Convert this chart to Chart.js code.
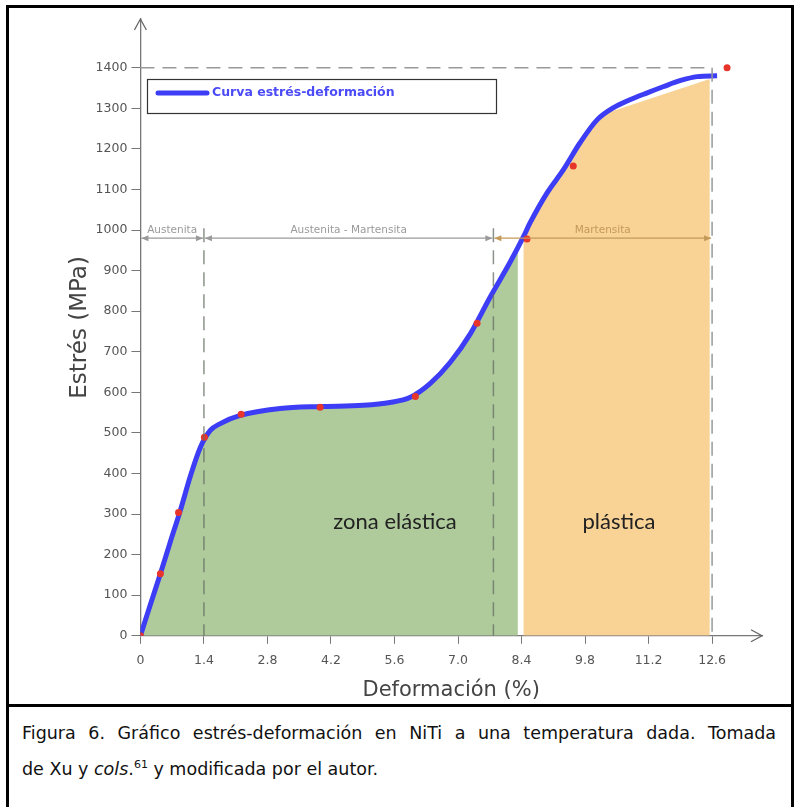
<!DOCTYPE html>
<html>
<head>
<meta charset="utf-8">
<script src="https://cdn.jsdelivr.net/npm/chart.js@4.4.0/dist/chart.umd.min.js"></script>
<style>
  html, body { margin: 0; padding: 0; background: #fff; }
  body { width: 797px; height: 807px; position: relative; overflow: hidden; }
  #frame { position: absolute; left: 6px; top: 5px; width: 788px; height: 830px; border: 3px solid #000; box-sizing: border-box; }
  #divider { position: absolute; left: 6px; top: 704px; width: 788px; height: 3px; background: #000; }
  #chartBox { position: absolute; left: 0; top: 0; width: 797px; height: 704px; }
  #caption { position: absolute; left: 22px; top: 715px; width: 754px; font-family: 'DejaVu Sans', sans-serif; font-size: 17.5px; line-height: 36px; color: #111; }
  .l1 { text-align: justify; text-align-last: justify; white-space: nowrap; }
  sup { font-size: 11px; line-height: 0; }
</style>
</head>
<body>
<div id="frame"></div>
<div id="divider"></div>
<div id="chartBox"><canvas id="chart"></canvas></div>
<div id="caption">
  <div class="l1">Figura 6. Gráfico estrés-deformación en NiTi a una temperatura dada. Tomada</div>
  <div>de Xu y <i>cols</i>.<sup>61</sup> y modificada por el autor.</div>
</div>
<script>
  // ejes
  const xTicks = [0, 1.4, 2.8, 4.2, 5.6, 7.0, 8.4, 9.8, 11.2, 12.6];
  const yTicks = [0, 100, 200, 300, 400, 500, 600, 700, 800, 900, 1000, 1100, 1200, 1300, 1400];

  // curva estrés-deformación
  const curveX = [0, 0.22, 0.44, 0.66, 0.88, 1.10, 1.32, 1.54, 1.76, 2.20, 3.08, 3.96, 4.91, 5.50, 5.95, 6.39, 6.83, 7.27, 7.71, 8.15, 8.44, 8.59, 8.96, 9.32, 9.69, 10.07, 10.42, 10.79, 11.17, 11.52, 11.89, 12.27, 12.71];
  const curveY = [0, 77, 153, 232, 309, 393, 464, 506, 523, 543, 560, 565, 568, 575, 588, 622, 674, 744, 835, 921, 983, 1018, 1091, 1148, 1215, 1272, 1301, 1321, 1338, 1353, 1368, 1378, 1380];

  // zona elástica (verde)
  const elasticX = [0, 0.22, 0.44, 0.66, 0.88, 1.10, 1.32, 1.54, 1.76, 2.20, 3.08, 3.96, 4.91, 5.50, 5.95, 6.39, 6.83, 7.27, 7.71, 8.15, 8.32];
  const elasticY = [0, 77, 153, 232, 309, 393, 464, 506, 523, 543, 560, 565, 568, 575, 588, 622, 674, 744, 835, 921, 958];

  // zona plástica (naranja)
  const plasticX = [8.44, 8.59, 8.96, 9.32, 9.69, 10.07, 10.33, 12.55];
  const plasticY = [975, 1010, 1083, 1140, 1207, 1265, 1290, 1372];

  // puntos rojos
  const markerX = [0, 0.44, 0.84, 1.41, 2.22, 3.96, 6.06, 7.42, 8.52, 9.54, 12.93];
  const markerY = [0, 153, 304, 489, 546, 563, 590, 770, 978, 1158, 1400];

  // fases
  const phaseNames = ['Austenita', 'Austenita - Martensita', 'Martensita'];
  const phaseBounds = [0, 1.4, 7.78, 12.6];
  const phaseLevel = 980;

  const toPts = (xs, ys) => xs.map((x, i) => ({ x: x, y: ys[i] }));

  const decor = {
    id: 'decor',
    afterDatasetsDraw(chart) {
      const ctx = chart.ctx;
      const xs = chart.scales.x, ys = chart.scales.y;
      const X = v => xs.getPixelForValue(v);
      const Y = v => ys.getPixelForValue(v);
      const y0 = Y(0);
      ctx.save();

      // líneas discontinuas
      ctx.setLineDash([14, 8]);
      ctx.lineWidth = 1.5;
      ctx.strokeStyle = '#999';
      ctx.beginPath();
      ctx.moveTo(X(0), Y(1400)); ctx.lineTo(X(12.6), Y(1400));
      ctx.moveTo(X(12.6), Y(1400)); ctx.lineTo(X(12.6), y0);
      ctx.stroke();
      ctx.strokeStyle = 'rgba(100,110,100,0.75)';
      ctx.beginPath();
      ctx.moveTo(X(1.4), Y(phaseLevel) - 10); ctx.lineTo(X(1.4), y0);
      ctx.moveTo(X(7.78), Y(phaseLevel) - 10); ctx.lineTo(X(7.78), y0);
      ctx.stroke();
      ctx.setLineDash([]);

      // cotas de fases
      const ly = Y(phaseLevel);
      ctx.font = '10.5px "DejaVu Sans", sans-serif';
      ctx.textAlign = 'center';
      ctx.textBaseline = 'bottom';
      phaseNames.forEach((name, i) => {
        const a = X(phaseBounds[i]), b = X(phaseBounds[i + 1]);
        const col = i === 2 ? '#c49a5a' : '#9a9a9a';
        ctx.strokeStyle = col;
        ctx.fillStyle = col;
        ctx.lineWidth = 1.2;
        ctx.beginPath();
        ctx.moveTo(a + 1, ly); ctx.lineTo(b - 1, ly);
        ctx.stroke();
        [[a + 1, 1], [b - 1, -1]].forEach(([p, d]) => {
          ctx.beginPath();
          ctx.moveTo(p, ly);
          ctx.lineTo(p + d * 7, ly - 3);
          ctx.lineTo(p + d * 7, ly + 3);
          ctx.closePath();
          ctx.fill();
        });
        ctx.fillText(name, (a + b) / 2, ly - 3);
      });

      // flechas de los ejes
      ctx.strokeStyle = '#666';
      ctx.lineWidth = 1.3;
      const xr = chart.chartArea.right, yt = chart.chartArea.top, xl = X(0);
      ctx.beginPath();
      ctx.moveTo(xr - 11, y0 - 6); ctx.lineTo(xr, y0); ctx.lineTo(xr - 11, y0 + 6);
      ctx.moveTo(xl - 6, yt + 11); ctx.lineTo(xl, yt); ctx.lineTo(xl + 6, yt + 11);
      ctx.stroke();

      // textos de zonas
      ctx.fillStyle = '#222';
      ctx.font = '22px Lato, sans-serif';
      ctx.textBaseline = 'middle';
      ctx.fillText('zona elástica', 395, 522);
      ctx.fillText('plástica', 619, 522);

      // leyenda
      ctx.strokeStyle = '#333';
      ctx.lineWidth = 1.2;
      ctx.strokeRect(147.5, 79.5, 349, 34);
      ctx.strokeStyle = '#3d3df5';
      ctx.lineWidth = 5;
      ctx.lineCap = 'round';
      ctx.beginPath();
      ctx.moveTo(158, 93); ctx.lineTo(207, 93);
      ctx.stroke();
      ctx.fillStyle = '#4b4bf7';
      ctx.font = 'bold 12.5px "DejaVu Sans", sans-serif';
      ctx.textAlign = 'left';
      ctx.fillText('Curva estrés-deformación', 212, 93);
      ctx.restore();
    }
  };

  new Chart(document.getElementById('chart'), {
    type: 'line',
    data: {
      datasets: [
        {
          label: 'marcas',
          data: toPts(markerX, markerY),
          showLine: false,
          pointRadius: 3.5,
          pointBackgroundColor: '#e8352b',
          pointBorderWidth: 0,
          order: 0
        },
        {
          label: 'Curva estrés-deformación',
          data: toPts(curveX, curveY),
          borderColor: '#3d3df5',
          borderWidth: 5,
          cubicInterpolationMode: 'monotone',
          pointRadius: 0,
          fill: false,
          order: 1
        },
        {
          label: 'zona elástica',
          data: toPts(elasticX, elasticY),
          borderWidth: 0,
          borderColor: 'rgba(0,0,0,0)',
          backgroundColor: '#afcb9c',
          cubicInterpolationMode: 'monotone',
          pointRadius: 0,
          fill: 'origin',
          order: 2
        },
        {
          label: 'plástica',
          data: toPts(plasticX, plasticY),
          borderWidth: 0,
          borderColor: 'rgba(0,0,0,0)',
          backgroundColor: '#f9d295',
          pointRadius: 0,
          fill: 'origin',
          order: 3
        }
      ]
    },
    options: {
      responsive: true,
      maintainAspectRatio: false,
      animation: false,
      layout: { padding: { left: 66, right: 35, top: 19, bottom: 1 } },
      plugins: { legend: { display: false }, tooltip: { enabled: false } },
      scales: {
        x: {
          type: 'linear',
          min: 0,
          max: 13.7,
          afterBuildTicks: s => { s.ticks = xTicks.map(v => ({ value: v })); },
          grid: { drawOnChartArea: false, drawTicks: true, tickLength: 8, color: '#777' },
          border: { color: '#777', width: 1.3 },
          ticks: {
            color: '#555',
            font: { family: 'DejaVu Sans', size: 12.5 },
            padding: 9,
            maxRotation: 0,
            autoSkip: false,
            callback: v => v === 0 ? '0' : v.toFixed(1)
          },
          title: {
            display: true,
            text: 'Deformación (%)',
            color: '#444',
            font: { family: 'DejaVu Sans', size: 21 },
            padding: { top: 1, bottom: 0 }
          }
        },
        y: {
          min: 0,
          max: 1520,
          afterBuildTicks: s => { s.ticks = yTicks.map(v => ({ value: v })); },
          grid: { drawOnChartArea: false, drawTicks: true, tickLength: 9, color: '#777' },
          border: { color: '#777', width: 1.3 },
          ticks: {
            color: '#555',
            font: { family: 'DejaVu Sans', size: 12.5 },
            padding: 4,
            autoSkip: false,
            callback: v => String(v)
          },
          title: {
            display: true,
            text: 'Estrés (MPa)',
            color: '#444',
            font: { family: 'DejaVu Sans', size: 23 },
            padding: { top: 0, bottom: -2 }
          }
        }
      }
    },
    plugins: [decor]
  });
</script>
</body>
</html>
